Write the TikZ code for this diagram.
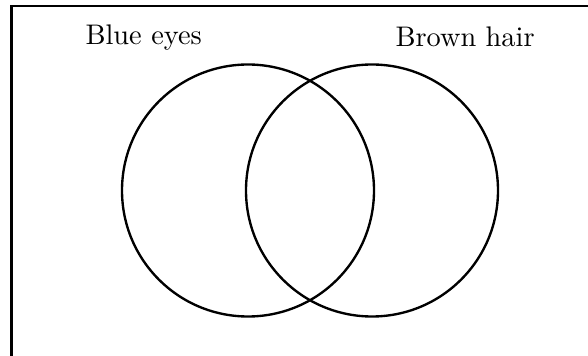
\documentclass[tikz,border=0pt]{standalone}
\begin{document}
\begin{tikzpicture}[x=0.36pt,y=-0.36pt,
  ring/.style={draw=black,line width=0.85pt},
  lbl/.style={anchor=base west,inner sep=0pt,font=\fontsize{10.2}{12}\selectfont}]
\useasboundingbox (0,0) rectangle (588,356);
\coordinate (fbl) at (11.5,360);
\coordinate (ftl) at (11.5,6);
\coordinate (ftr) at (592,6);
\begin{scope}
\clip (0,0) rectangle (588,356);
\draw[line width=1pt] (fbl) -- (ftl) -- (ftr);
\end{scope}
\node[ring,circle,minimum size=252*0.36pt,inner sep=0pt] (blue) at (248,190.5) {};
\node[ring,circle,minimum size=252*0.36pt,inner sep=0pt] (brown) at (372,190.5) {};
\node[lbl] (lb) at (85,45) {Blue eyes};
\node[lbl] (lh) at (395,47) {Brown hair};
\end{tikzpicture}
\end{document}
